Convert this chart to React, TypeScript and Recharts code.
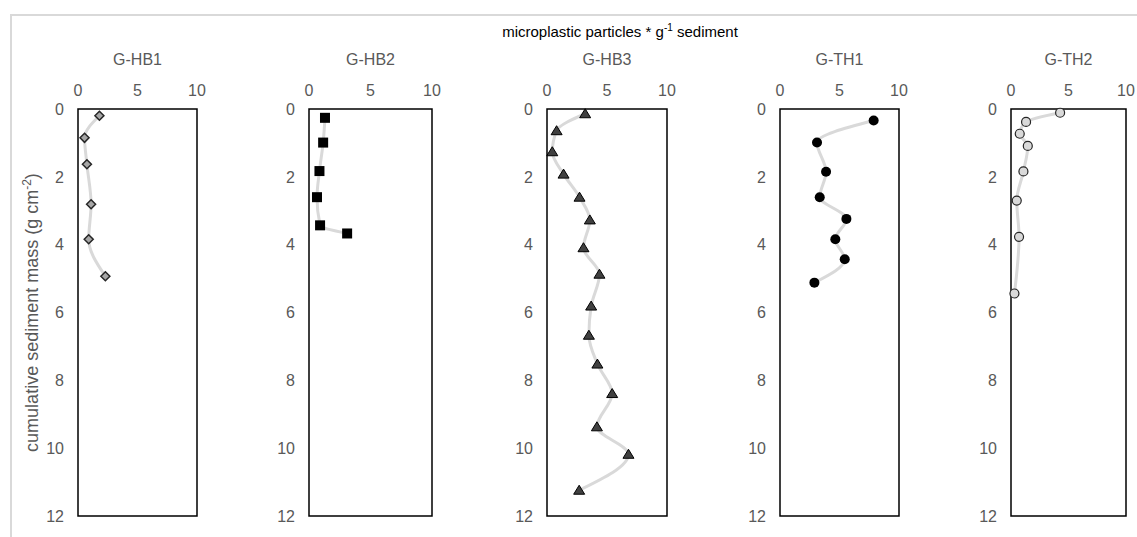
import React from "react"
import {
  ScatterChart,
  Scatter,
  XAxis,
  YAxis,
  ReferenceArea
} from "recharts"

// cumulative sediment mass (g cm-2) and particles per g sediment, per core
const hb1Depth = [0.2, 0.85, 1.63, 2.81, 3.84, 4.93]
const hb1Count = [1.8, 0.55, 0.75, 1.1, 0.9, 2.3]

const hb2Depth = [0.26, 0.99, 1.83, 2.6, 3.43, 3.67]
const hb2Count = [1.3, 1.15, 0.85, 0.65, 0.9, 3.1]

const hb3Depth = [0.14, 0.64, 1.26, 1.92, 2.6, 3.27, 4.09, 4.87, 5.81, 6.67, 7.52, 8.39, 9.37, 10.18, 11.24]
const hb3Count = [3.18, 0.8, 0.44, 1.38, 2.71, 3.57, 3.04, 4.37, 3.68, 3.49, 4.2, 5.43, 4.16, 6.79, 2.68]

const th1Depth = [0.34, 0.99, 1.85, 2.6, 3.24, 3.84, 4.43, 5.12]
const th1Count = [7.87, 3.11, 3.87, 3.34, 5.58, 4.65, 5.44, 2.89]

const th2Depth = [0.11, 0.38, 0.73, 1.09, 1.84, 2.7, 3.77, 5.44]
const th2Count = [4.27, 1.31, 0.76, 1.46, 1.08, 0.5, 0.7, 0.3]

const coreNames = ["G-HB1", "G-HB2", "G-HB3", "G-TH1", "G-TH2"]
const xTicks = [0, 5, 10]
const yTicks = [0, 2, 4, 6, 8, 10, 12]

const FONT = "'Liberation Sans', Arial, sans-serif"
const GREY_TEXT = "#595959"

// plot box edges in page pixels
const boxLeft = [78, 309, 547, 780, 1011]
const boxRight = [197, 432, 667, 899, 1126]
const BOX_TOP = 109
const BOX_BOTTOM = 516
const AXIS_W = 60
const CHART_TOP = 40

const toRows = (depth: number[], count: number[]) =>
  depth.map((d, i) => ({ depth: d, count: count[i] }))

const diamond = (p: any) => (
  <path
    d={`M${p.cx},${p.cy - 4.5} L${p.cx + 4.5},${p.cy} L${p.cx},${p.cy + 4.5} L${p.cx - 4.5},${p.cy} Z`}
    fill="#a6a6a6"
    stroke="#262626"
    strokeWidth={1.5}
  />
)
const square = (p: any) => (
  <rect x={p.cx - 5} y={p.cy - 5} width={10} height={10} fill="#000" />
)
const triangle = (p: any) => (
  <path
    d={`M${p.cx},${p.cy - 5} L${p.cx + 5.5},${p.cy + 4} L${p.cx - 5.5},${p.cy + 4} Z`}
    fill="#404040"
    stroke="#000"
    strokeWidth={1}
  />
)
const blackDot = (p: any) => <circle cx={p.cx} cy={p.cy} r={5} fill="#000" />
const greyDot = (p: any) => (
  <circle cx={p.cx} cy={p.cy} r={4.5} fill="#d9d9d9" stroke="#262626" strokeWidth={1.2} />
)

const panels = [
  { rows: toRows(hb1Depth, hb1Count), shape: diamond },
  { rows: toRows(hb2Depth, hb2Count), shape: square },
  { rows: toRows(hb3Depth, hb3Count), shape: triangle },
  { rows: toRows(th1Depth, th1Count), shape: blackDot },
  { rows: toRows(th2Depth, th2Count), shape: greyDot }
]

function CorePanel({ idx }: { idx: number }) {
  const p = panels[idx]
  const w = boxRight[idx] - boxLeft[idx]
  const h = BOX_BOTTOM - BOX_TOP
  return (
    <div style={{ position: "absolute", left: boxLeft[idx] - AXIS_W, top: CHART_TOP }}>
      <ScatterChart
        width={AXIS_W + w + 10}
        height={BOX_TOP - CHART_TOP + h + 10}
        margin={{ top: 0, right: 10, bottom: 10, left: 0 }}
      >
        <XAxis
          type="number"
          dataKey="count"
          orientation="top"
          domain={[0, 10]}
          ticks={xTicks}
          height={BOX_TOP - CHART_TOP}
          axisLine={false}
          tickLine={false}
          tickMargin={7}
          tick={{ fill: GREY_TEXT, fontSize: 16, fontFamily: FONT }}
        />
        <YAxis
          type="number"
          dataKey="depth"
          domain={[0, 12]}
          ticks={yTicks}
          reversed
          width={AXIS_W}
          axisLine={false}
          tickLine={false}
          tickMargin={8}
          tick={{ fill: GREY_TEXT, fontSize: 16, fontFamily: FONT }}
        />
        <ReferenceArea x1={0} x2={10} y1={0} y2={12} fill="none" stroke="#000" strokeWidth={1.5} />
        <Scatter
          data={p.rows}
          shape={p.shape}
          line={{ stroke: "#d9d9d9", strokeWidth: 3 }}
          lineJointType="monotoneY"
          isAnimationActive={false}
        />
      </ScatterChart>
    </div>
  )
}

export default function App() {
  return (
    <div
      style={{
        position: "absolute",
        left: 0,
        top: 0,
        width: 1137,
        height: 537,
        background: "#fff",
        overflow: "hidden",
        fontFamily: FONT
      }}
    >
      <div
        style={{
          position: "absolute",
          left: 10,
          top: 14,
          width: 1200,
          height: 600,
          borderTop: "2px solid #d9d9d9",
          borderLeft: "2px solid #d9d9d9"
        }}
      />
      <div
        style={{
          position: "absolute",
          left: 420,
          width: 400,
          top: 22,
          textAlign: "center",
          fontSize: 15,
          color: "#000",
          whiteSpace: "nowrap"
        }}
      >
        microplastic particles * g<sup style={{ fontSize: 10 }}>-1</sup> sediment
      </div>
      {coreNames.map((name, i) => (
        <div
          key={name}
          style={{
            position: "absolute",
            left: (boxLeft[i] + boxRight[i]) / 2 - 60,
            width: 120,
            top: 51,
            textAlign: "center",
            fontSize: 16,
            color: GREY_TEXT
          }}
        >
          {name}
        </div>
      ))}
      <div
        style={{
          position: "absolute",
          left: 31 - 200,
          top: 313 - 12,
          width: 400,
          textAlign: "center",
          fontSize: 18,
          color: GREY_TEXT,
          whiteSpace: "nowrap",
          transform: "rotate(-90deg)"
        }}
      >
        cumulative sediment mass (g cm<sup style={{ fontSize: 12 }}>-2</sup>)
      </div>
      {panels.map((_, i) => (
        <CorePanel key={i} idx={i} />
      ))}
    </div>
  )
}
